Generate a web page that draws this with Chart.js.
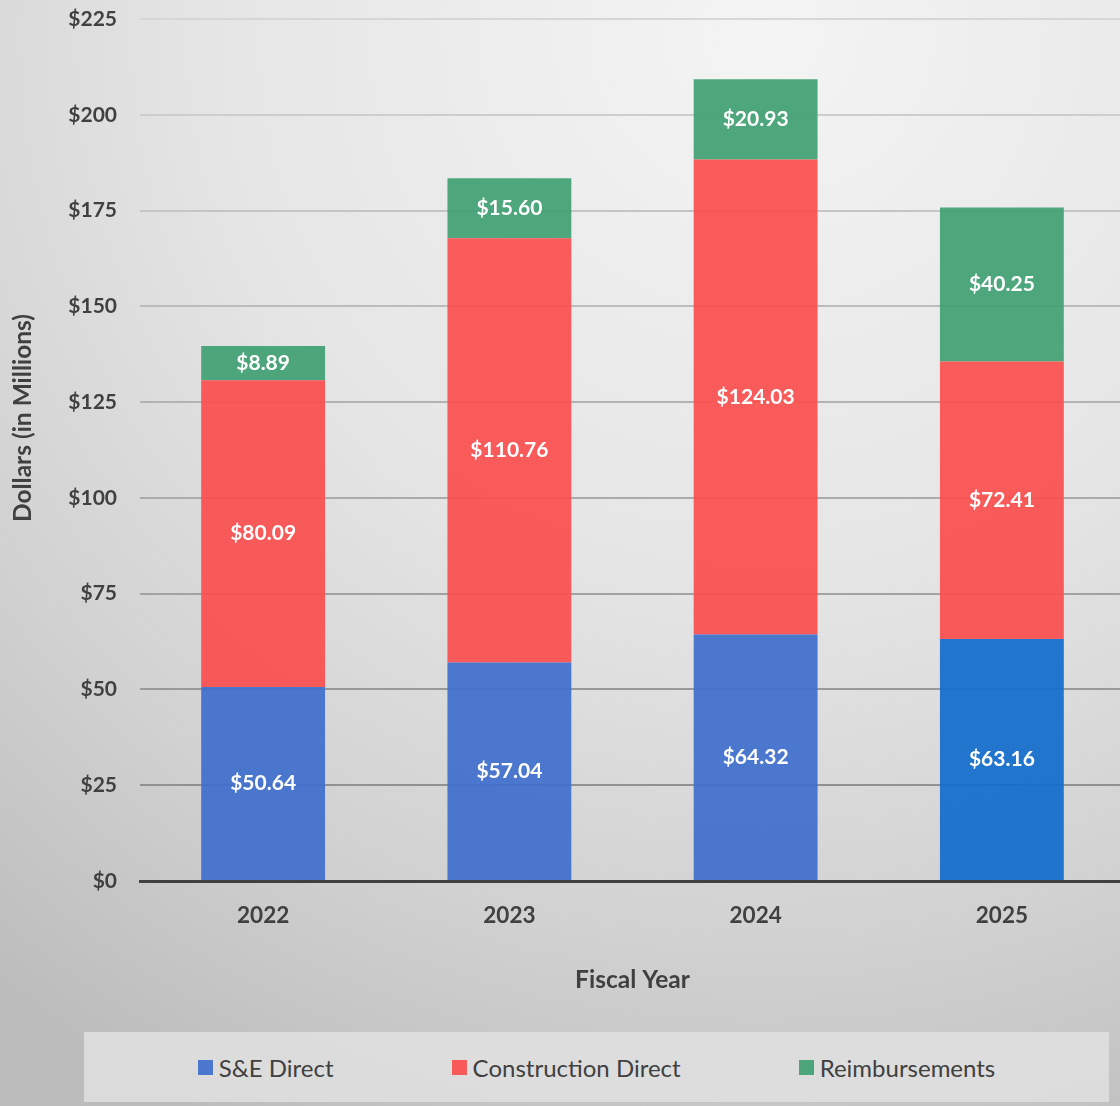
<!DOCTYPE html>
<html>
<head>
<meta charset="utf-8">
<script src="https://cdn.jsdelivr.net/npm/chart.js@4/dist/chart.umd.min.js"></script>
<style>
  html, body {
    margin: 0;
    width: 1120px;
    height: 1106px;
    overflow: hidden;
    background: radial-gradient(ellipse 110% 110% at 68% 3%, #f4f4f4 0%, #e5e5e5 45%, #d1d1d1 75%, #bcbcbc 100%);
    font-family: Lato, sans-serif;
  }
  #wrap { position: absolute; left: 0; top: 0; width: 1125px; height: 1032px; }
  #legend {
    position: absolute; left: 84px; top: 1032px; width: 1025px; height: 70px;
    background: rgba(224, 224, 224, 0.85);
    display: flex; justify-content: center; align-items: center; gap: 118px;
    color: #404040; font-size: 24px;
  }
  #legend .item { display: flex; align-items: center; }
  #legend .box { width: 15px; height: 15px; margin-right: 6px; }
</style>
</head>
<body>
<div id="wrap"><canvas id="budgetChart" width="1125" height="1032"></canvas></div>
<div id="legend"></div>
<script>
const years = ["2022", "2023", "2024", "2025"];
const seDirect = [50.64, 57.04, 64.32, 63.16];
const constructionDirect = [80.09, 110.76, 124.03, 72.41];
const reimbursements = [8.89, 15.60, 20.93, 40.25];

const axisText = "#404040";

// draws "$xx.xx" in the middle of every stacked segment
const segmentLabels = {
  id: "segmentLabels",
  afterDatasetsDraw(chart) {
    const { ctx } = chart;
    ctx.save();
    ctx.fillStyle = "#ffffff";
    ctx.font = "bold 21px Lato";
    ctx.textAlign = "center";
    ctx.textBaseline = "middle";
    chart.data.datasets.forEach((ds, i) => {
      chart.getDatasetMeta(i).data.forEach((bar, j) => {
        const y = (bar.y + bar.base) / 2;
        ctx.fillText("$" + ds.data[j].toFixed(2), bar.x, y);
      });
    });
    ctx.restore();
  },
};

// vertical axis title, sitting a bit above the plot centre
const yTitle = {
  id: "yTitle",
  afterDraw(chart) {
    const { ctx, chartArea } = chart;
    ctx.save();
    ctx.translate(23, (chartArea.top + chartArea.bottom) / 2 - 32);
    ctx.rotate(-Math.PI / 2);
    ctx.fillStyle = axisText;
    ctx.font = "bold 24.5px Lato";
    ctx.textAlign = "center";
    ctx.textBaseline = "middle";
    ctx.fillText("Dollars (in Millions)", 0, 0);
    ctx.restore();
  },
};

const chart = new Chart(document.getElementById("budgetChart"), {
  type: "bar",
  data: {
    labels: years,
    datasets: [
      {
        label: "S&E Direct",
        data: seDirect,
        backgroundColor: [
          "rgba(63, 111, 206, 0.93)",
          "rgba(63, 111, 206, 0.93)",
          "rgba(63, 111, 206, 0.93)",
          "rgba(19, 109, 203, 0.93)",
        ],
      },
      {
        label: "Construction Direct",
        data: constructionDirect,
        backgroundColor: "rgba(250, 80, 80, 0.93)",
      },
      {
        label: "Reimbursements",
        data: reimbursements,
        backgroundColor: "rgba(66, 161, 115, 0.93)",
      },
    ],
  },
  options: {
    responsive: false,
    animation: false,
    layout: { padding: { top: 19, left: 0, right: 0, bottom: 0 } },
    datasets: { bar: { barPercentage: 0.503, categoryPercentage: 1.0 } },
    plugins: {
      legend: { display: false },
      tooltip: { enabled: false },
    },
    scales: {
      x: {
        stacked: true,
        grid: { display: false, drawTicks: false },
        border: { display: true, color: "#404040", width: 3 },
        ticks: {
          color: axisText,
          font: { family: "Lato", size: 22.5, weight: "bold" },
          padding: 21,
        },
        title: {
          display: true,
          text: "Fiscal Year",
          color: axisText,
          font: { family: "Lato", size: 24.5, weight: "bold" },
          padding: { top: 0, bottom: 37 },
        },
        afterFit(scale) {
          scale.height = 151;
        },
      },
      y: {
        stacked: true,
        min: 0,
        max: 225,
        ticks: {
          stepSize: 25,
          color: axisText,
          font: { family: "Lato", size: 21, weight: "bold" },
          padding: 23,
          callback: (v) => "$" + v,
        },
        grid: {
          drawTicks: false,
          lineWidth: 2,
          color: (ctx) => {
            const v = ctx.tick ? ctx.tick.value : 0;
            if (v === 0) return "rgba(0,0,0,0)";
            const g = Math.round(136 + 78 * (v / 225));
            return `rgb(${g}, ${g}, ${g})`;
          },
        },
        border: { display: false },
        afterFit(scale) {
          scale.width = 140;
          // top edge comes from layout padding only
          scale.paddingTop = 0;
          scale.paddingBottom = 0;
        },
      },
    },
  },
  plugins: [segmentLabels, yTitle],
});

// legend built from the chart's own datasets
const legend = document.getElementById("legend");
chart.data.datasets.forEach((ds) => {
  const item = document.createElement("div");
  item.className = "item";
  const box = document.createElement("span");
  box.className = "box";
  box.style.background = Array.isArray(ds.backgroundColor) ? ds.backgroundColor[0] : ds.backgroundColor;
  const txt = document.createElement("span");
  txt.textContent = ds.label;
  item.appendChild(box);
  item.appendChild(txt);
  legend.appendChild(item);
});
</script>
</body>
</html>
